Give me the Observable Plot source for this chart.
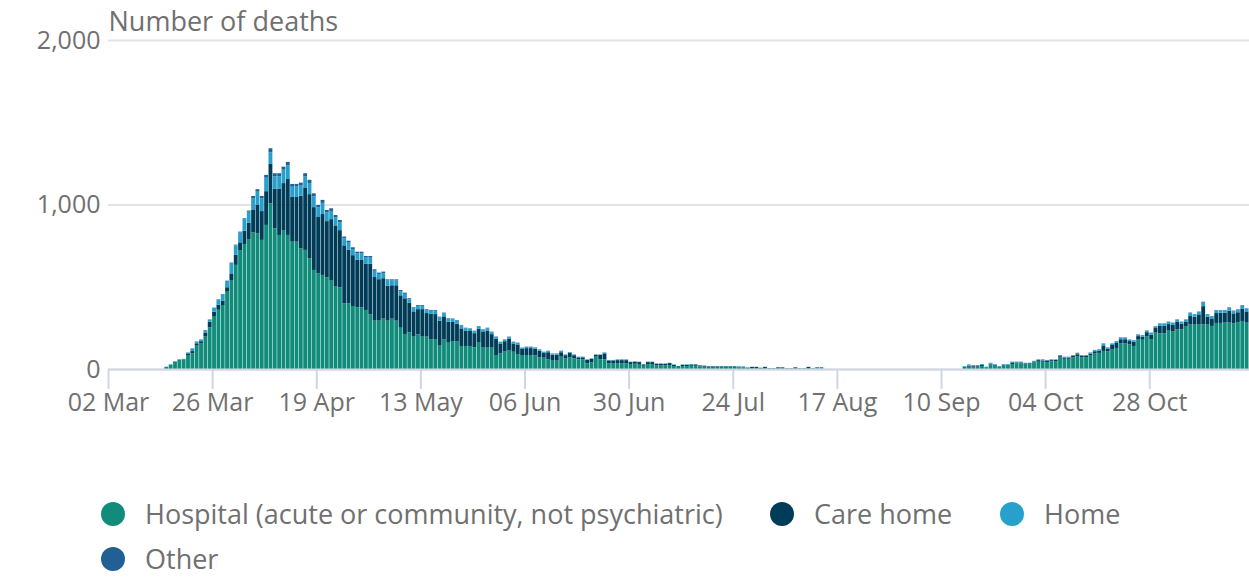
<!DOCTYPE html>
<html>
<head>
<meta charset="utf-8">
<script src="https://cdn.jsdelivr.net/npm/d3@7"></script>
<script src="https://cdn.jsdelivr.net/npm/@observablehq/plot@0.6"></script>
<style>
  body { margin: 0; background: #fff; font-family: "Open Sans", sans-serif; }
  #wrap { position: relative; width: 1249px; height: 578px; }
  #chart svg { display: block; }
  g[aria-label^="x-axis"] line, g[aria-label="x-axis tick"] path { stroke: #cfd7e4; stroke-width: 2; stroke-opacity: 1; }
  g[aria-label^="y-grid"] line, g[aria-label="y-grid"] path { stroke: #e3e3e3; stroke-width: 2; stroke-opacity: 1; }
  .item { position: absolute; display: flex; align-items: center; gap: 20px; color: #707070; font-size: 27px; line-height: 20px; white-space: nowrap; }
  .dot { width: 24px; height: 24px; border-radius: 50%; display: inline-block; flex: none; }
</style>
</head>
<body>
<div id="wrap">
  <div id="chart"></div>
</div>
<script>
// Daily deaths from 02 Mar 2020 (index 0) to 19 Nov 2020
const startDate = "2020-03-02";
const endDate = "2020-11-20";
const placeNames = ["Hospital (acute or community, not psychiatric)", "Care home", "Home", "Other"];
const placeColors = ["#118c7b", "#003c57", "#27a0cc", "#206095"];
const tickDates = ["2020-03-02","2020-03-26","2020-04-19","2020-05-13","2020-06-06","2020-06-30","2020-07-24","2020-08-17","2020-09-10","2020-10-04","2020-10-28"];
const yTicks = [0, 1000, 2000];

const hospital = [
  0,0,0,0,0,0,0,0,0,0,
  0,0,0,14,27,45,55,58,85,95,
  142,155,197,253,318,360,389,470,541,633,
  720,760,790,830,825,785,876,1007,855,815,
  845,815,774,774,734,724,673,602,582,572,
  557,541,501,497,400,400,383,375,375,359,
  332,294,294,306,294,306,294,251,213,223,
  197,211,197,197,182,182,142,182,160,170,
  170,140,140,140,132,160,130,130,130,85,
  95,109,115,105,91,85,85,85,83,71,
  69,59,51,51,75,65,71,65,59,59,
  35,40,75,59,59,34,34,34,34,34,
  30,32,30,20,30,30,22,22,22,24,
  18,12,18,18,20,20,16,14,8,8,
  8,8,8,8,8,10,10,6,4,4,
  4,4,3,3,4,4,2,2,4,2,
  2,4,2,2,2,0,0,0,0,0,
  0,0,0,0,0,0,0,0,0,0,
  0,0,0,0,0,0,0,0,0,0,
  0,0,0,0,0,0,0,8,14,14,
  14,18,10,28,24,14,24,24,30,34,
  34,34,30,40,44,44,42,46,48,72,
  62,62,70,78,70,72,82,94,98,110,
  108,118,128,156,156,150,140,182,178,200,
  182,221,217,217,233,230,241,241,261,270,
  270,270,272,270,262,280,280,282,282,278,
  285,292,282
];
const careHome = [
  0,0,0,0,0,0,0,0,0,0,
  0,0,0,0,1,1,2,2,10,14,
  14,14,25,35,30,30,27,27,40,61,
  50,80,100,140,175,175,205,240,240,280,
  285,340,272,275,320,380,390,382,342,370,
  342,370,372,347,352,326,309,290,291,280,
  308,265,252,246,212,203,215,197,217,179,
  153,153,167,143,153,152,152,138,127,116,
  106,107,94,91,86,84,95,104,82,98,
  60,60,70,50,58,37,42,42,40,40,
  28,43,36,36,27,19,26,19,12,12,
  20,21,10,26,36,18,18,20,20,20,
  12,12,12,8,12,12,10,10,10,12,
  8,5,8,8,8,8,6,6,8,8,
  8,8,8,8,8,2,2,2,8,8,
  3,8,2,2,6,6,2,2,6,2,
  2,8,2,0,0,0,0,0,0,0,
  0,0,0,0,0,0,0,0,0,0,
  0,0,0,0,0,0,0,0,0,0,
  0,0,0,0,0,0,0,6,6,4,
  4,6,2,4,2,2,2,2,10,6,
  6,2,5,6,10,8,10,8,8,6,
  8,8,10,12,10,8,12,14,14,30,
  16,28,30,25,25,20,25,18,18,24,
  27,28,45,45,40,38,45,34,28,52,
  48,62,110,48,45,60,62,60,72,60,
  60,76,68
];
const home = [
  0,0,0,0,0,0,0,0,0,0,
  0,0,0,0,0,1,2,2,5,16,
  11,10,14,13,23,32,38,38,63,58,
  60,70,66,68,78,77,82,70,77,77,
  82,84,62,60,61,66,67,66,58,68,
  53,50,48,48,43,42,37,37,36,38,
  37,38,32,32,32,29,29,25,27,22,
  20,20,20,18,19,20,19,18,17,17,
  17,17,14,13,12,14,13,14,12,11,
  9,9,10,9,9,6,7,7,7,7,
  6,7,6,6,7,4,5,4,3,3,
  3,3,3,3,5,2,2,4,4,4,
  2,2,2,2,2,2,2,2,2,2,
  2,1,2,2,2,2,2,1,2,2,
  2,2,2,2,2,4,4,2,2,2,
  1,2,1,1,2,2,0,0,0,0,
  0,2,0,10,10,0,0,0,0,0,
  0,0,0,0,0,0,0,0,0,0,
  0,0,0,0,0,0,0,0,0,0,
  0,0,0,0,0,0,0,4,8,6,
  6,6,2,6,4,2,4,4,5,5,
  5,2,3,4,5,7,3,5,3,7,
  5,5,5,8,5,5,6,7,7,14,
  7,9,10,10,10,8,9,9,9,9,
  10,10,14,14,13,12,14,11,11,18,
  13,14,22,13,12,16,14,14,18,14,
  15,18,16
];
const other = [
  0,0,0,0,0,0,0,0,0,0,
  0,0,0,0,0,0,0,0,1,1,
  1,1,1,1,2,2,2,2,3,4,
  5,6,7,14,15,15,17,25,18,18,
  18,20,17,16,18,20,20,18,15,18,
  15,16,15,14,10,12,11,11,11,10,
  10,9,8,8,7,7,7,7,7,6,
  5,5,5,5,5,5,5,5,4,4,
  4,4,3,3,3,3,3,3,3,3,
  2,2,2,2,2,2,2,2,2,2,
  2,2,2,2,2,1,1,1,1,1,
  1,1,1,1,1,1,1,1,1,1,
  1,1,1,0,1,1,0,0,0,0,
  0,0,0,0,0,0,0,0,0,0,
  0,0,0,0,0,0,0,0,0,0,
  0,0,0,0,0,0,0,0,0,0,
  0,0,0,0,0,0,0,0,0,0,
  0,0,0,0,0,0,0,0,0,0,
  0,0,0,0,0,0,0,0,0,0,
  0,0,0,0,0,0,0,0,0,0,
  0,0,0,0,0,0,0,0,0,0,
  0,0,0,0,0,0,0,0,0,0,
  0,0,0,1,0,0,1,1,1,2,
  1,1,2,2,2,2,2,2,2,2,
  2,2,2,2,2,2,2,2,2,3,
  3,3,5,3,3,3,3,3,3,3,
  3,3,3
];

const series = [hospital, careHome, home, other];
const parse = d3.utcParse("%Y-%m-%d");
const t0 = parse(startDate);
const rows = [];
series.forEach((arr, k) => {
  arr.forEach((v, i) => {
    rows.push({date: d3.utcDay.offset(t0, i), place: placeNames[k], value: v});
  });
});

const chart = Plot.plot({
  width: 1249,
  height: 470,
  marginLeft: 108,
  marginRight: 0,
  marginTop: 40,
  marginBottom: 101,
  style: { fontFamily: "Open Sans", fontSize: "25px", color: "#707070", background: "white", overflow: "visible" },
  x: {
    type: "utc",
    domain: [parse(startDate), parse(endDate)],
    ticks: tickDates.map(parse),
    tickFormat: d3.utcFormat("%d %b"),
    tickSize: 20,
    tickPadding: 4,
    label: null
  },
  y: {
    domain: [0, 2000],
    ticks: yTicks,
    tickFormat: d3.format(","),
    tickSize: 0,
    tickPadding: 8,
    grid: true,
    label: null
  },
  color: { domain: placeNames, range: placeColors },
  marks: [
    Plot.rectY(rows, {x: "date", y: "value", fill: "place", interval: d3.utcDay, order: placeNames, insetLeft: 0, insetRight: 0.5}),
    Plot.ruleY([0], {stroke: "#cfd7e4", strokeWidth: 2}),
    Plot.text(["Number of deaths"], {frameAnchor: "top-left", lineAnchor: "middle", dy: -18, textAnchor: "start", fontSize: 27, fill: "#707070"})
  ]
});
document.getElementById("chart").appendChild(chart);

const legendLeft = [101, 770, 1000, 101];
const legendTop = [502, 502, 502, 547];
const wrap = document.getElementById("wrap");
placeNames.forEach((n, i) => {
  const el = document.createElement("div");
  el.className = "item";
  el.style.left = legendLeft[i] + "px";
  el.style.top = legendTop[i] + "px";
  el.innerHTML = `<span class="dot" style="background:${placeColors[i]}"></span><span>${n}</span>`;
  wrap.appendChild(el);
});
</script>
</body>
</html>
